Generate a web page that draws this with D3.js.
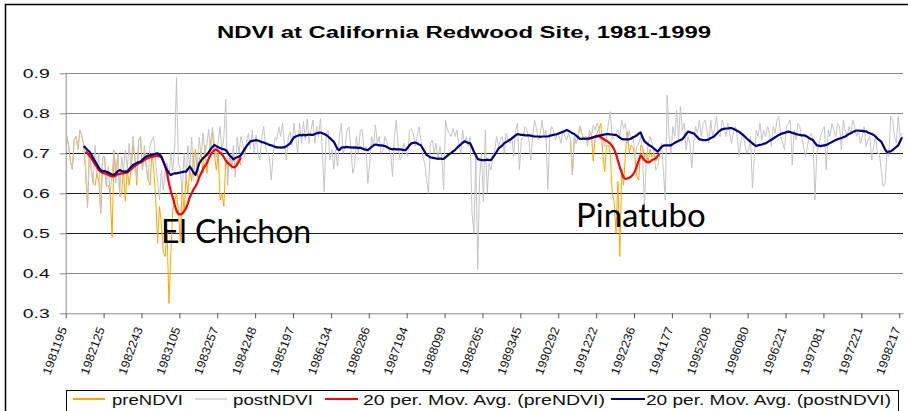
<!DOCTYPE html>
<html><head><meta charset="utf-8">
<script src="https://cdn.jsdelivr.net/npm/d3@7"></script>
<style>body{margin:0;background:#fff}svg{display:block}</style>
</head><body><svg id="c" width="908" height="411"></svg>
<script>
// ---------------- DATA ----------------
const title = "NDVI at California Redwood Site, 1981-1999";
const xLabels = ["1981195","1982125","1982243","1983105","1983257","1984248","1985197","1986134","1986286","1987194","1988099","1988265","1989345","1990292","1991222","1992236","1994177","1995208","1996080","1996221","1997081","1997221","1998217"];
const yTicks = [0.3,0.4,0.5,0.6,0.7,0.8,0.9];
const nCategories = 442;     // composites along the category axis
const labelEvery = 20;       // one label per 20 categories
const seriesNames = ["preNDVI","postNDVI","20 per. Mov. Avg. (preNDVI)","20 per. Mov. Avg. (postNDVI)"];
const annotations = ["El Chichon","Pinatubo"];

// postNDVI, categories 0..441
const postNDVI = [
.745,.72,.68,.66,.735,.742,.71,.758,.745,.72,.668,.565,.70,.66,.625,.72,.65,.70,.55,.69,
.692,.617,.667,.60,.65,.708,.625,.70,.592,.692,.658,.708,.66,.725,.66,.742,.692,.64,.733,.742,
.658,.72,.667,.633,.717,.733,.742,.675,.633,.583,.658,.608,.658,.675,.642,.70,.658,.708,.89,.675,
.66,.60,.70,.63,.72,.66,.74,.64,.70,.67,.74,.69,.75,.70,.72,.76,.70,.765,.72,.69,
.73,.767,.70,.74,.835,.62,.70,.66,.72,.64,.74,.70,.742,.725,.69,.73,.75,.71,.758,.70,
.746,.70,.683,.74,.767,.717,.70,.692,.633,.692,.74,.733,.767,.742,.775,.72,.683,.74,.754,.72,
.775,.737,.70,.775,.725,.779,.733,.787,.725,.758,.783,.725,.767,.742,.787,.70,.604,.75,.758,.683,
.71,.66,.708,.667,.742,.775,.70,.717,.758,.767,.717,.65,.667,.742,.70,.758,.758,.708,.717,.625,
.675,.742,.717,.771,.725,.742,.70,.708,.742,.729,.708,.70,.642,.742,.783,.717,.683,.692,.725,.708,
.692,.758,.762,.75,.717,.742,.767,.733,.692,.675,.633,.60,.725,.733,.70,.725,.683,.717,.692,.608,
.783,.758,.75,.742,.762,.742,.758,.725,.70,.758,.725,.742,.717,.742,.55,.50,.70,.41,.64,.70,
.58,.758,.60,.675,.658,.692,.708,.742,.717,.733,.742,.70,.75,.733,.725,.742,.692,.758,.775,.658,
.733,.742,.767,.758,.733,.683,.742,.783,.762,.733,.75,.783,.742,.758,.61,.742,.767,.758,.733,.75,
.742,.725,.758,.742,.733,.75,.733,.646,.742,.725,.742,.767,.75,.733,.742,.717,.758,.742,.771,.758,
.775,.762,.733,.742,.717,.742,.775,.804,.733,.742,.75,.758,.742,.783,.762,.775,.725,.758,.733,.742,
.692,.717,.725,.742,.70,.57,.683,.725,.742,.725,.70,.658,.667,.692,.725,.658,.583,.846,.742,.70,
.767,.742,.808,.733,.817,.758,.775,.708,.742,.725,.663,.725,.767,.75,.783,.742,.775,.783,.758,.725,
.783,.742,.758,.792,.75,.742,.783,.767,.742,.775,.75,.725,.754,.767,.742,.692,.733,.75,.725,.70,
.708,.742,.613,.692,.758,.742,.775,.733,.758,.742,.767,.75,.717,.767,.75,.783,.792,.742,.725,.708,
.767,.775,.783,.671,.758,.733,.775,.767,.742,.717,.692,.717,.742,.75,.733,.583,.70,.717,.742,.758,
.767,.658,.758,.742,.775,.758,.742,.775,.767,.708,.783,.758,.742,.767,.75,.783,.767,.742,.758,.725,
.742,.767,.717,.733,.742,.683,.717,.742,.70,.70,.658,.617,.625,.70,.692,.792,.783,.742,.725,.792,
.742,.75
];

// preNDVI, El Chichon period: categories 0..92
const preNDVI_A_start = 0;
const preNDVI_A = [
.745,.72,.68,.66,.735,.742,.71,.758,.745,.72,.658,.565,.70,.66,.625,.62,.65,.63,.55,.69,
.692,.617,.62,.60,.49,.708,.65,.70,.592,.60,.658,.58,.66,.62,.66,.72,.692,.62,.733,.742,
.658,.70,.667,.633,.62,.70,.66,.587,.475,.567,.525,.454,.442,.51,.325,.45,.558,.58,.60,.56,
.479,.62,.55,.64,.60,.66,.63,.69,.71,.64,.683,.70,.65,.72,.65,.70,.73,.754,.70,.658,
.70,.583,.60,.567,.683,.66,.69,.67,.70,.66,.68,.69,.67
];
// preNDVI, Pinatubo period: categories 266..313
const preNDVI_B_start = 266;
const preNDVI_B = [
.733,.646,.742,.725,.742,.767,.75,.733,.742,
.73,.745,.75,.68,.74,.75,.76,.775,.70,.654,.72,.72,.70,.60,.58,.50,.63,.442,.66,.62,
.70,.754,.70,.72,.715,.69,.642,.633,.72,.717,.69,.70,.68,.71,.69,.70,.68,.69,.70
];

// 20 per. moving average of preNDVI
const preMA_A_start = 10;
const preMA_A = [
.704,.70,.694,.688,.68,.672,.665,.658,.654,.651,
.65,.648,.646,.644,.642,.642,.645,.648,.648,.65,
.65,.651,.652,.656,.66,.664,.668,.672,.675,.677,
.68,.683,.686,.688,.69,.691,.692,.693,.694,.692,
.69,.68,.668,.65,.625,.605,.59,.572,.556,.548,
.547,.549,.555,.562,.575,.59,.60,.61,.617,.626,
.64,.65,.66,.668,.675,.686,.696,.703,.708,.71,
.706,.702,.698,.69,.682,.676,.672,.668,.665,.666,
.672,.68,.69
];
const preMA_B_start = 275;
const preMA_B = [
.735,.737,.738,.74,.741,.742,.742,.74,.737,.734,.731,.728,.724,.718,.71,.698,.682,.665,.652,.64,
.636,.637,.639,.642,.647,.655,.668,.682,.695,.69,.683,.679,.677,.679,.683,.685,.688,.693,.698
];

// 20 per. moving average of postNDVI, categories 9..441
const postMA_start = 9;
const postMA = [
.718,
.713,.708,.704,.697,.688,.68,.672,.664,.658,.655,
.656,.654,.652,.649,.647,.646,.65,.655,.658,.656,
.654,.655,.654,.66,.666,.671,.673,.676,.678,.679,
.684,.688,.692,.694,.695,.696,.697,.699,.70,.697,
.692,.68,.668,.658,.651,.646,.648,.65,.65,.651,
.652,.653,.654,.654,.66,.667,.66,.652,.646,.66,
.675,.682,.688,.692,.696,.703,.71,.716,.721,.718,
.715,.713,.711,.71,.708,.702,.695,.69,.685,.688,
.69,.692,.695,.703,.711,.718,.724,.73,.731,.732,
.733,.732,.73,.728,.727,.725,.723,.721,.72,.718,
.716,.715,.715,.714,.715,.715,.718,.721,.725,.733,
.74,.742,.744,.746,.745,.746,.745,.746,.747,.746,
.746,.748,.75,.751,.752,.75,.748,.746,.742,.738,
.733,.729,.72,.71,.708,.714,.715,.715,.716,.715,
.715,.714,.715,.714,.713,.714,.712,.71,.709,.708,
.712,.716,.72,.722,.721,.72,.72,.719,.718,.716,
.713,.711,.71,.711,.71,.71,.71,.709,.708,.708,
.714,.72,.725,.726,.727,.725,.722,.72,.712,.704,
.696,.693,.69,.689,.688,.687,.686,.687,.686,.686,
.69,.694,.698,.701,.705,.708,.713,.718,.722,.726,
.73,.728,.726,.725,.715,.704,.695,.686,.684,.683,
.683,.683,.684,.683,.683,.69,.696,.704,.712,.716,
.72,.725,.728,.731,.734,.737,.741,.745,.748,.747,
.746,.746,.745,.745,.745,.744,.743,.742,.742,.742,
.741,.742,.742,.742,.742,.744,.745,.746,.747,.748,
.75,.752,.754,.756,.758,.756,.753,.75,.748,.744,
.74,.736,.736,.737,.736,.737,.737,.739,.74,.742,
.743,.744,.745,.746,.747,.748,.748,.747,.747,.746,
.746,.743,.739,.736,.735,.735,.735,.735,.737,.74,
.742,.745,.749,.752,.74,.73,.726,.722,.719,.716,
.712,.708,.704,.71,.716,.719,.72,.72,.72,.72,
.723,.726,.729,.731,.733,.735,.741,.748,.754,.753,
.751,.75,.745,.74,.735,.734,.733,.733,.733,.735,
.738,.74,.743,.748,.753,.757,.76,.761,.762,.762,
.763,.763,.761,.759,.756,.754,.75,.746,.742,.737,
.733,.729,.725,.721,.718,.72,.721,.722,.724,.725,
.728,.731,.734,.737,.74,.743,.746,.748,.75,.751,
.753,.754,.753,.751,.75,.748,.747,.746,.745,.745,
.744,.741,.738,.735,.733,.726,.72,.719,.718,.719,
.72,.721,.723,.726,.728,.731,.733,.735,.737,.738,
.74,.742,.745,.748,.75,.753,.755,.757,.757,.756,
.756,.755,.755,.752,.75,.748,.746,.742,.737,.733,
.729,.72,.71,.703,.704,.705,.708,.712,.716,.72,
.73,.74
];

// ---------------- CHART ----------------
const svg = d3.select("#c");
const plot = {l: 65.7, r: 903, t: 73.3, b: 313.3};
const x = d3.scaleLinear().domain([0, nCategories]).range([plot.l, plot.r]);
const y = d3.scaleLinear().domain([0.3, 0.9]).range([plot.b, plot.t]);
const AR = "'Liberation Sans', Arial, sans-serif";

// outer chart border
svg.append("rect").attr("x", 5.5).attr("y", 4.5).attr("width", 1000).attr("height", 1000)
  .attr("fill", "none").attr("stroke", "#000").attr("stroke-width", 1.5);

// title
svg.append("text").attr("x", 217).attr("y", 37.5)
  .attr("textLength", 494).attr("lengthAdjust", "spacingAndGlyphs")
  .style("font", `bold 16px ${AR}`).attr("fill", "#000").text(title);

// gridlines
svg.append("g").selectAll("line").data(yTicks.filter(v => v > 0.3)).join("line")
  .attr("x1", plot.l).attr("x2", plot.r)
  .attr("y1", d => Math.round(y(d)) + 0.5).attr("y2", d => Math.round(y(d)) + 0.5)
  .attr("stroke", d => (d > 0.45 && d < 0.75) ? "#1a1a1a" : "#8a8a8a").attr("stroke-width", 1);

// axes
const yAxis = d3.axisLeft(y).tickValues(yTicks).tickSize(6).tickSizeOuter(0).tickFormat(d3.format(".1f"));
const gy = svg.append("g").attr("transform", `translate(${plot.l},0)`).call(yAxis);
gy.select(".domain").attr("stroke", "#8a8a8a");
gy.selectAll(".tick line").attr("stroke", "#8a8a8a");
gy.selectAll(".tick text").attr("x", -16).attr("textLength", 27).attr("lengthAdjust", "spacingAndGlyphs")
  .style("font", `12px ${AR}`).attr("fill", "#111");

const xTicks = d3.range(xLabels.length).map(k => k * labelEvery);
const xAxis = d3.axisBottom(x).tickValues(xTicks).tickSize(5).tickSizeOuter(0).tickFormat((d, k) => xLabels[k]);
const gx = svg.append("g").attr("transform", `translate(0,${plot.b})`).call(xAxis);
gx.select(".domain").attr("stroke", "#8a8a8a");
gx.selectAll(".tick line").attr("stroke", "#555");
gx.selectAll(".tick text").attr("x", 0).attr("y", 0).attr("dy", "0.35em")
  .attr("text-anchor", "end").attr("transform", "translate(-3,14) rotate(-70)")
  .attr("textLength", 50).attr("lengthAdjust", "spacingAndGlyphs")
  .style("font", `12px ${AR}`).attr("fill", "#111");

// series
const seg = (vals, start) => vals.map((v, k) => ({i: start + k, v}));
const line = d3.line().x(d => x(d.i + 0.5)).y(d => y(d.v));
const g = svg.append("g").attr("fill", "none").attr("stroke-linejoin", "round");
const orange = "#FFA500", gray = "#C4C4C4", red = "#FF0000", navy = "#000080";
[[preNDVI_A, preNDVI_A_start], [preNDVI_B, preNDVI_B_start]].forEach(([v, s]) =>
  g.append("path").attr("d", line(seg(v, s))).attr("stroke", orange).attr("stroke-width", 1));
g.append("path").attr("d", line(seg(postNDVI, 0))).attr("stroke", gray).attr("stroke-width", 1);
[[preMA_A, preMA_A_start], [preMA_B, preMA_B_start]].forEach(([v, s]) =>
  g.append("path").attr("d", line(seg(v, s))).attr("stroke", red).attr("stroke-width", 2.2));
g.append("path").attr("d", line(seg(postMA, postMA_start))).attr("stroke", navy).attr("stroke-width", 2.2);

// annotations
svg.append("text").attr("x", 161).attr("y", 243).style("font", "32px Lato, 'Open Sans', sans-serif")
  .attr("fill", "#000").text(annotations[0]);
svg.append("text").attr("x", 576).attr("y", 227).style("font", "33px Lato, 'Open Sans', sans-serif")
  .attr("fill", "#000").text(annotations[1]);

// legend
svg.append("rect").attr("x", 66.5).attr("y", 390.5).attr("width", 832).attr("height", 40)
  .attr("fill", "#fff").attr("stroke", "#000").attr("stroke-width", 1);
const legendLayout = [
  {c: orange, x1: 73, x2: 105, tx: 112, tl: 71, w: 2},
  {c: "#D8D8D8", x1: 195, x2: 227, tx: 233, tl: 80, w: 2},
  {c: red, x1: 325, x2: 358, tx: 363, tl: 242, w: 2},
  {c: navy, x1: 611, x2: 645, tx: 646, tl: 245, w: 2}
];
const lg = svg.append("g");
legendLayout.forEach((L, k) => {
  lg.append("line").attr("x1", L.x1).attr("x2", L.x2).attr("y1", 399).attr("y2", 399)
    .attr("stroke", L.c).attr("stroke-width", L.w);
  lg.append("text").attr("x", L.tx).attr("y", 405).attr("textLength", L.tl)
    .attr("lengthAdjust", "spacingAndGlyphs").style("font", `14px ${AR}`).attr("fill", "#111")
    .text(seriesNames[k]);
});
</script>
</body></html>
